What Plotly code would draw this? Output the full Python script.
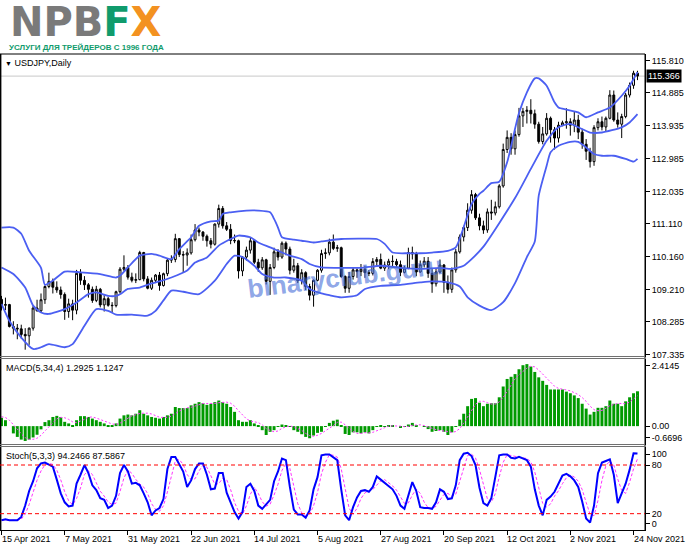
import plotly.graph_objects as go
import pandas as pd

# ---------------- data ----------------
dates = [d.strftime("%Y-%m-%d") for d in pd.bdate_range("2021-04-15", "2021-11-25")]
dates.insert(dates.index("2021-11-01"), "2021-10-31")  # broker's short Sunday bar

tick_labels = ["15 Apr 2021", "7 May 2021", "31 May 2021", "22 Jun 2021", "14 Jul 2021",
               "5 Aug 2021", "27 Aug 2021", "20 Sep 2021", "12 Oct 2021", "2 Nov 2021", "24 Nov 2021"]

open_ = [108.93,108.76,108.78,108.15,108.10,108.08,107.92,107.88,108.10,108.68,
         108.60,108.92,109.30,109.45,109.28,109.20,109.07,108.58,108.80,108.62,
         109.68,109.48,109.35,109.22,108.90,109.22,108.77,108.95,108.76,108.75,
         109.15,109.80,109.85,109.57,109.48,109.50,110.28,109.52,109.25,109.48,
         109.63,109.33,109.67,110.06,110.08,110.68,110.22,110.21,110.27,110.65,
         110.93,110.87,110.75,110.62,110.52,111.10,111.55,111.05,110.95,110.63,
         110.62,109.75,110.15,110.35,110.62,110.00,109.84,110.07,109.45,109.85,
         110.30,110.15,110.55,110.38,109.77,109.90,109.47,109.70,109.30,109.05,
         109.48,109.77,110.25,110.27,110.58,110.40,110.42,109.59,109.25,109.59,
         109.78,109.73,109.80,109.70,109.68,110.02,110.08,109.83,109.92,110.03,
         110.02,109.93,109.71,109.83,110.28,110.24,109.72,109.93,110.03,109.68,
         109.38,109.72,109.92,109.42,109.22,109.78,110.30,110.73,111.00,111.50,
         111.95,111.28,111.05,110.93,111.45,111.42,111.60,112.20,113.25,113.60,
         113.27,113.68,114.22,114.35,114.38,114.28,113.98,113.48,113.70,114.15,
         113.82,113.58,113.95,114.02,114.05,113.95,114.10,113.75,113.40,113.20,
         112.90,113.88,114.05,113.90,114.15,114.82,114.10,113.98,114.20,114.82,
         115.10,115.45]
high = [109.03,108.98,108.80,108.30,108.22,108.20,108.10,108.12,108.74,108.92,
        109.10,109.33,109.70,109.53,109.45,109.30,109.13,108.95,108.92,109.78,
        109.80,109.60,109.40,109.30,109.32,109.26,109.05,109.00,108.85,109.18,
        109.86,110.20,109.92,109.70,109.68,110.33,110.30,109.60,109.56,109.66,
        109.72,109.70,110.12,110.20,110.82,110.70,110.32,110.40,110.80,111.10,
        111.00,110.90,110.80,110.70,111.12,111.66,111.62,111.16,111.10,110.80,
        110.65,110.18,110.45,110.70,110.66,110.10,110.15,110.10,109.95,110.42,
        110.38,110.60,110.60,110.45,110.10,109.98,109.80,109.74,109.38,109.50,
        109.80,110.36,110.40,110.68,110.80,110.50,110.45,109.62,109.72,109.85,
        109.82,109.95,109.90,109.78,110.12,110.15,110.25,110.02,110.10,110.20,
        110.10,110.05,109.90,110.42,110.45,110.30,110.05,110.15,110.15,109.80,
        109.82,110.08,109.95,109.62,109.85,110.38,110.80,111.05,111.70,112.08,
        112.00,111.40,111.20,111.55,111.80,111.75,112.25,113.42,113.80,113.72,
        113.80,114.45,114.45,114.50,114.70,114.40,114.05,113.90,114.30,114.20,
        113.90,114.05,114.08,114.44,114.15,114.35,114.25,113.85,113.55,113.30,
        113.95,114.15,114.20,114.20,114.96,114.95,114.32,114.28,114.88,115.18,
        115.52,115.52]
low = [108.61,108.62,108.12,107.92,107.78,107.80,107.48,107.62,108.03,108.58,
       108.55,108.80,109.25,109.10,109.12,108.95,108.34,108.40,108.33,108.50,
       109.35,109.20,108.98,108.83,108.85,108.70,108.58,108.72,108.55,108.70,
       109.10,109.75,109.50,109.42,109.40,109.48,109.45,109.22,109.20,109.40,
       109.18,109.30,109.60,109.98,110.00,110.15,109.72,109.90,110.22,110.60,
       110.75,110.62,110.45,110.40,110.48,111.00,110.97,110.90,110.52,110.55,
       109.53,109.60,110.05,110.25,109.95,109.72,109.78,109.36,109.06,109.80,
       110.05,110.10,110.20,109.65,109.70,109.40,109.36,109.20,108.90,108.72,
       109.45,109.70,110.10,110.20,110.35,110.30,109.55,109.12,109.12,109.50,
       109.55,109.60,109.55,109.60,109.62,109.92,109.80,109.75,109.80,109.85,
       109.85,109.60,109.68,109.80,110.08,109.60,109.70,109.85,109.55,109.12,
       109.30,109.68,109.12,109.10,109.12,109.70,110.25,110.60,110.90,111.40,
       111.22,110.92,110.82,110.85,111.22,111.35,111.55,112.15,113.15,113.10,
       113.10,113.62,113.90,114.00,114.00,113.85,113.42,113.40,113.65,113.45,
       113.25,113.45,113.92,113.85,113.65,113.75,113.55,113.27,112.95,112.73,
       112.78,113.80,113.80,113.78,114.12,114.05,113.88,113.58,114.15,114.75,
       115.00,115.25]
close = [108.76,108.78,108.15,108.10,108.08,107.92,107.88,108.10,108.68,108.60,
         108.92,109.30,109.45,109.28,109.20,109.07,108.58,108.80,108.62,109.68,
         109.48,109.35,109.22,108.90,109.22,108.77,108.95,108.76,108.75,109.15,
         109.80,109.85,109.57,109.48,109.50,110.28,109.52,109.25,109.48,109.63,
         109.33,109.67,110.06,110.08,110.68,110.22,110.21,110.27,110.65,110.93,
         110.87,110.75,110.62,110.52,111.10,111.55,111.05,110.95,110.63,110.62,
         109.75,110.15,110.35,110.62,110.00,109.84,110.07,109.45,109.85,110.30,
         110.15,110.55,110.38,109.77,109.90,109.47,109.70,109.30,109.05,109.48,
         109.77,110.25,110.27,110.58,110.40,110.42,109.59,109.25,109.59,109.78,
         109.73,109.80,109.70,109.68,110.02,110.08,109.83,109.92,110.03,110.02,
         109.93,109.71,109.83,110.28,110.24,109.72,109.93,110.03,109.68,109.38,
         109.72,109.92,109.42,109.22,109.78,110.30,110.73,111.00,111.50,111.95,
         111.28,111.05,110.93,111.45,111.42,111.60,112.20,113.25,113.60,113.27,
         113.68,114.22,114.35,114.38,114.28,113.98,113.48,113.70,114.15,113.82,
         113.58,113.95,114.02,114.05,113.95,114.10,113.75,113.40,113.20,112.90,
         113.88,114.05,113.90,114.15,114.82,114.10,113.98,114.20,114.82,115.10,
         115.45,115.366]

# Bollinger bands, read at sampled bars
bb_upper_idx = [0,3,5,7,10,11,13,16,20,25,29,30,32,35,38,40,43,45,48,50,53,55,56,58,62,65,68,69,70,71,
                74,76,79,81,86,91,95,97,99,103,106,109,113,115,117,119,121,122,124,126,128,130,131,133,135,
                136,138,140,141,143,146,148,151,154,157,159,161]
bb_upper = [111.00,111.00,110.82,110.33,109.84,109.35,109.47,109.73,109.71,109.66,109.56,109.61,109.85,110.19,
            110.24,110.19,110.09,110.38,110.72,111.05,111.18,111.20,111.39,111.44,111.49,111.49,111.44,111.25,
            111.00,110.72,110.65,110.62,110.57,110.60,110.67,110.68,110.67,110.53,110.28,110.26,110.26,110.28,
            110.33,110.43,111.01,111.68,111.97,112.06,112.28,112.32,112.88,113.85,114.30,114.90,115.30,115.30,
            115.09,114.61,114.46,114.40,114.32,114.18,114.32,114.46,114.80,115.09,115.48]
bb_mid_idx = [0,3,6,8,10,12,16,19,22,24,27,29,30,32,35,38,40,43,47,49,52,55,58,60,63,65,68,71,73,76,
              78,81,86,91,96,101,106,111,114,117,119,122,130,134,138,141,144,146,149,152,157,159,161]
bb_mid = [109.85,109.66,109.27,108.75,108.55,108.51,108.65,108.84,109.08,109.13,109.03,109.03,109.08,109.23,
          109.27,109.39,109.45,109.56,109.76,109.99,110.14,110.48,110.67,110.77,110.72,110.57,110.43,110.28,
          110.19,110.09,109.95,109.85,109.84,109.84,109.90,109.84,109.81,109.84,109.81,109.90,110.09,110.45,
          111.85,112.69,113.50,113.89,113.99,113.89,113.74,113.74,113.89,114.03,114.27]
bb_low_idx = [0,2,5,8,10,12,16,18,21,24,27,29,33,37,39,41,43,46,50,54,57,59,61,64,66,69,72,76,78,81,
              83,86,90,92,96,101,106,109,113,116,118,121,124,127,130,133,135,136,138,139,141,144,146,148,150,
              152,155,158,160,161]
bb_low = [108.80,108.31,107.83,107.50,107.55,107.64,107.55,107.64,108.17,108.65,108.60,108.49,108.49,108.46,
          108.60,108.90,109.18,109.15,109.08,109.47,109.95,110.19,110.15,109.90,109.66,109.56,109.56,109.47,
          109.23,109.10,109.05,108.99,109.05,109.23,109.32,109.35,109.42,109.45,109.42,109.30,108.99,108.75,
          108.62,108.85,109.40,110.15,110.60,111.92,112.78,113.17,113.36,113.47,113.47,113.31,113.12,113.07,
          113.07,112.98,112.90,112.98]

macd_hist = [0.31,0.22,0.00,-0.27,-0.40,-0.50,-0.55,-0.50,-0.42,-0.32,
             -0.12,0.15,0.22,0.34,0.38,0.34,0.16,0.10,0.04,0.22,
             0.37,0.37,0.34,0.28,0.22,0.16,0.10,0.04,0.01,0.10,
             0.28,0.40,0.43,0.40,0.46,0.59,0.46,0.40,0.34,0.31,
             0.28,0.34,0.40,0.46,0.71,0.67,0.67,0.67,0.77,0.83,
             0.89,0.85,0.79,0.83,0.89,0.95,0.89,0.83,0.71,0.53,
             0.22,0.16,0.16,0.22,0.10,0.04,-0.15,-0.33,-0.21,-0.15,
             -0.02,0.06,0.01,-0.02,-0.15,-0.21,-0.30,-0.40,-0.45,-0.35,
             -0.25,-0.21,-0.02,0.12,0.20,0.24,0.04,-0.29,-0.33,-0.23,
             -0.23,-0.27,-0.23,-0.27,-0.15,-0.02,0.01,-0.02,0.04,0.01,
             0.00,-0.06,-0.02,0.06,0.12,0.01,0.00,-0.02,-0.11,-0.21,
             -0.18,-0.15,-0.21,-0.33,-0.23,-0.02,0.24,0.46,0.74,1.01,
             1.04,0.87,0.74,0.83,0.85,0.85,1.07,1.47,1.75,1.83,
             1.93,2.11,2.26,2.30,2.21,2.01,1.81,1.68,1.53,1.36,
             1.36,1.36,1.36,1.28,1.22,1.14,1.04,0.83,0.65,0.43,
             0.53,0.68,0.68,0.74,0.95,0.83,0.83,0.74,0.92,1.07,
             1.22,1.2925]
macd_signal = [0.35,0.32,0.22,0.07,-0.11,-0.29,-0.43,-0.49,-0.49,-0.45,
               -0.34,-0.18,-0.02,0.15,0.27,0.32,0.31,0.25,0.16,0.13,
               0.18,0.25,0.33,0.34,0.30,0.25,0.18,0.13,0.08,0.06,
               0.11,0.20,0.30,0.38,0.42,0.47,0.48,0.48,0.45,0.38,
               0.33,0.32,0.33,0.37,0.48,0.56,0.63,0.68,0.70,0.74,
               0.79,0.84,0.84,0.84,0.84,0.87,0.89,0.89,0.85,0.74,
               0.57,0.41,0.27,0.19,0.16,0.13,0.05,-0.09,-0.16,-0.21,
               -0.18,-0.08,-0.03,0.01,-0.03,-0.09,-0.16,-0.27,-0.35,-0.38,
               -0.34,-0.27,-0.18,-0.09,0.02,0.14,0.15,0.05,-0.09,-0.20,
               -0.27,-0.27,-0.24,-0.25,-0.23,-0.17,-0.11,-0.05,0.00,0.01,
               0.01,0.00,-0.02,-0.01,0.03,0.04,0.05,0.02,-0.03,-0.09,
               -0.13,-0.16,-0.19,-0.22,-0.23,-0.20,-0.09,0.11,0.36,0.61,
               0.81,0.92,0.92,0.87,0.82,0.82,0.90,1.06,1.29,1.53,
               1.75,1.91,2.03,2.15,2.22,2.20,2.08,1.93,1.76,1.60,
               1.48,1.40,1.36,1.34,1.31,1.25,1.17,1.06,0.92,0.74,
               0.61,0.57,0.58,0.66,0.76,0.80,0.84,0.84,0.83,0.89,
               1.00,1.1247]

stoch_k = [12,13,12,12,12,16,30,48,60,76,
           82,83,81,78,62,45,34,29,30,57,
           68,80,70,55,49,39,37,27,30,42,
           70,80,72,57,58,55,45,34,18,24,
           27,38,75,90,90,80,72,53,61,75,
           82,82,68,50,51,70,70,46,33,22,
           14,22,53,57,48,30,26,32,37,60,
           72,88,86,53,25,19,19,15,24,50,
           65,92,93,93,90,86,50,18,12,28,
           40,48,49,47,53,66,62,58,55,50,
           42,30,26,44,59,48,28,27,27,26,
           34,50,47,38,39,55,86,94,95,91,
           80,52,33,30,39,65,92,93,93,89,
           88,90,88,86,78,50,30,18,37,41,
           47,57,67,69,66,61,53,35,14,9,
           30,70,83,85,87,68,33,45,57,74,
           94.5,94.2466]
stoch_d = [12,12,12.3,12.3,12,13.3,19.3,31.3,46,61.3,
           72.7,80.3,82,80.7,73.7,61.7,47,36,31,38.7,
           51.7,68.3,72.7,68.3,58,47.7,41.7,34.3,31.3,33,
           47.3,64,74,69.7,62.3,56.7,52.7,44.7,32.3,25.3,
           23,29.7,46.7,67.7,85,86.7,80.7,68.3,62,63,
           72.7,79.7,77.3,66.7,56.3,57,63.7,62,49.7,33.7,
           23,19.3,29.7,44,52.7,45,34.7,29.3,31.7,43,
           56.3,73.3,82,75.7,54.7,32.3,21,17.7,19.3,29.7,
           46.3,69,83.3,92.7,92,89.7,75.3,51.3,26.7,19.3,
           26.7,38.7,45.7,48,49.7,55.3,60.3,62,58.3,54.3,
           49,40.7,32.7,33.3,43,50.3,45,34.3,27.3,26.7,
           29,36.7,43.7,45,41.3,44,60,78.3,91.7,93.3,
           88.7,74.3,55,38.3,34,44.7,65.3,83.3,92.7,91.7,
           90,89,88.7,88,84,71.3,52.7,32.7,28.3,32,
           41.7,48.3,57,64.3,67.3,65.3,60,49.7,34,19.3,
           17.7,36.3,61,79.3,85,80,62.7,48.7,45,58.7,
           75.2,87.5867]

price_ticks = [115.810, 114.885, 113.935, 112.985, 112.035, 111.110, 110.160, 109.210, 108.285, 107.335]
last_price = 115.366

# ---------------- geometry (pixels of the 691x549 page) ----------------
TOP, BOTTOM, RIGHT = 54, 530, 645
H = BOTTOM - TOP
def py(y):
    return (BOTTOM - y) / H

FONT = "Liberation Sans, Arial, sans-serif"
BB_COLOR = "#4b5ff2"

fig = go.Figure()

# candles first so that category order follows the full date list
fig.add_trace(go.Candlestick(x=dates, open=open_, high=high, low=low, close=close, yaxis="y",
                             increasing=dict(line=dict(color="black", width=1), fillcolor="white"),
                             decreasing=dict(line=dict(color="black", width=1), fillcolor="black"),
                             whiskerwidth=0))

for idx, vals in ((bb_upper_idx, bb_upper), (bb_mid_idx, bb_mid), (bb_low_idx, bb_low)):
    fig.add_trace(go.Scatter(x=[dates[i] for i in idx], y=vals, mode="lines", yaxis="y",
                             line=dict(color=BB_COLOR, width=1.8, shape="spline", smoothing=0.6),
                             hoverinfo="skip"))

fig.add_trace(go.Bar(x=dates, y=macd_hist, yaxis="y2", marker=dict(color="#009a00", line=dict(width=0))))
fig.add_trace(go.Scatter(x=dates, y=macd_signal, yaxis="y2", mode="lines",
                         line=dict(color="#ff33ff", width=1, dash="2px,2px")))

fig.add_trace(go.Scatter(x=dates, y=stoch_d, yaxis="y3", mode="lines",
                         line=dict(color="#ff33ff", width=1, dash="3px,2px")))
fig.add_trace(go.Scatter(x=dates, y=stoch_k, yaxis="y3", mode="lines",
                         line=dict(color="#0000ff", width=2)))

axis_font = dict(family=FONT, size=9, color="black")
common_y = dict(side="right", showgrid=False, zeroline=False, showline=True, linecolor="black",
                linewidth=1, ticks="outside", ticklen=4, tickcolor="black", tickfont=axis_font,
                anchor="x", fixedrange=True, automargin=False)

fig.update_layout(
    width=691, height=549,
    margin=dict(l=0, r=691 - RIGHT, t=TOP, b=549 - BOTTOM, autoexpand=False),
    paper_bgcolor="white", plot_bgcolor="white",
    showlegend=False, bargap=0.25,
    xaxis=dict(type="category", categoryorder="array", categoryarray=dates,
               range=[-0.38, 162.9], showgrid=False, zeroline=False,
               showline=True, linecolor="black", linewidth=1, ticks="outside", ticklen=4,
               tickcolor="black", tickvals=dates[::16], showticklabels=False,
               rangeslider=dict(visible=False), anchor="y3", fixedrange=True, automargin=False),
    yaxis=dict(domain=[py(357), 1.0], range=[107.269, 116.003],
               tickvals=price_ticks, ticktext=[f"{v:.3f}" for v in price_ticks], **common_y),
    yaxis2=dict(domain=[py(445), py(359)], range=[-0.70, 2.49],
                tickvals=[2.24, 0.0, -0.43], ticktext=["2.4145", "0.00", "-0.6696"], **common_y),
    yaxis3=dict(domain=[0.0, py(447)], range=[-0.12, 102.2],
                tickvals=[93.2, 80, 20, 7.3], ticktext=["100", "80", "20", "0"], **common_y),
)

shapes = []
# frame and separators
shapes.append(dict(type="line", xref="paper", yref="paper", x0=0, x1=1, y0=1, y1=1,
                   line=dict(color="black", width=1)))
shapes.append(dict(type="line", xref="paper", yref="paper", x0=0.001, x1=0.001, y0=0, y1=1,
                   line=dict(color="black", width=1.5)))
shapes.append(dict(type="line", xref="paper", yref="paper", x0=1, x1=1, y0=0, y1=1,
                   line=dict(color="black", width=1)))
for ysep in (356.5, 358.5, 444.5, 446.5):
    shapes.append(dict(type="line", xref="paper", yref="paper", x0=0, x1=1, y0=py(ysep), y1=py(ysep),
                       line=dict(color="#707070", width=1)))
# bid line
shapes.append(dict(type="line", xref="paper", yref="y", x0=0, x1=1, y0=last_price, y1=last_price,
                   line=dict(color="#c8c8c8", width=1), layer="below"))
# stochastic levels
for lvl in (80, 20):
    shapes.append(dict(type="line", xref="paper", yref="y3", x0=0, x1=1, y0=lvl, y1=lvl,
                       line=dict(color="#ff0000", width=1, dash="4px,3px")))
fig.update_layout(shapes=shapes)

ann = []
ann.append(dict(xref="paper", yref="paper", x=8 / RIGHT, y=py(22), xanchor="left", yanchor="middle",
                showarrow=False,
                text='<b><span style="color:#7a7a7a">NPB</span><span style="color:#109b6c">F</span>'
                     '<span style="color:#f39221">X</span></b>',
                font=dict(family="DejaVu Sans, sans-serif", size=40)))
ann.append(dict(xref="paper", yref="paper", x=7 / RIGHT, y=py(47.5), xanchor="left", yanchor="middle",
                showarrow=False, text="<b>УСЛУГИ ДЛЯ ТРЕЙДЕРОВ С 1996 ГОДА</b>",
                font=dict(family="Liberation Sans Narrow, Liberation Sans, sans-serif", size=8,
                          color="#109b6c")))
ann.append(dict(xref="paper", yref="paper", x=3 / RIGHT, y=py(63), xanchor="left", yanchor="middle",
                showarrow=False, text="<span style='font-size:7px'>▼</span> USDJPY,Daily",
                font=dict(family=FONT, size=9, color="black")))
ann.append(dict(xref="paper", yref="paper", x=4 / RIGHT, y=py(368), xanchor="left", yanchor="middle",
                showarrow=False, text="MACD(5,34,4) 1.2925 1.1247",
                font=dict(family=FONT, size=9, color="black")))
ann.append(dict(xref="paper", yref="paper", x=4 / RIGHT, y=py(456), xanchor="left", yanchor="middle",
                showarrow=False, text="Stoch(5,3,3) 94.2466 87.5867",
                font=dict(family=FONT, size=9, color="black")))
ann.append(dict(xref="paper", yref="paper", x=345 / RIGHT, y=py(277), xanchor="center", yanchor="middle",
                showarrow=False, text="<b>binaryclub.guru</b>", textangle=-7,
                font=dict(family="Liberation Sans, sans-serif", size=26, color="rgba(70,110,215,0.62)")))
ann.append(dict(xref="paper", yref="y", x=1, y=last_price, xanchor="left", yanchor="middle", xshift=1,
                showarrow=False, text=f"{last_price:.3f}", bgcolor="black", borderpad=1,
                font=dict(family=FONT, size=9, color="white")))
for d, lab in zip(dates[::16], tick_labels):
    ann.append(dict(xref="x", yref="paper", x=d, y=py(539), xanchor="left", yanchor="middle",
                    xshift=-2, showarrow=False, text=lab, font=dict(family=FONT, size=9, color="black")))
fig.update_layout(annotations=ann)

fig.write_html("out.html", config={"displayModeBar": False},
               post_script="document.body.style.margin='0px';document.body.style.overflow='hidden';")
